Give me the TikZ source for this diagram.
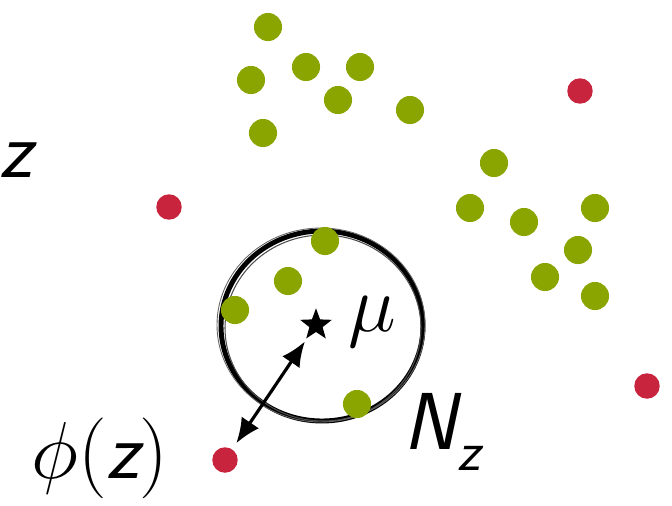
\documentclass[tikz,border=0pt]{standalone}
\usepackage{fix-cm}
\usepackage{amsmath,amssymb}
\usepackage{xcolor}
\usepackage{tikz}
\usetikzlibrary{arrows.meta,positioning,shapes.geometric}
\definecolor{dotgreen}{RGB}{138,164,0}
\definecolor{dotred}{RGB}{200,36,62}

\begin{document}
\begin{tikzpicture}[
  x=0.02cm, y=-0.02cm,
  gdot/.style={circle, fill=dotgreen, inner sep=0pt, minimum size=16pt},
  rdot/.style={circle, fill=dotred, inner sep=0pt, minimum size=14.5pt},
  lbl/.style={font=\fontsize{46}{54}\selectfont, inner sep=0pt},
  arrow/.style={{Latex[length=5mm,width=4.2mm]}-{Latex[length=5mm,width=4.2mm]}, line width=1.8pt}
]
\useasboundingbox (0,0) rectangle (672,505);

% neighbourhood N_z
\draw[line width=2.8pt] (322,326) ellipse [x radius=101, y radius=95];
\draw[line width=0.6pt, black!70] (323,328) ellipse [x radius=98, y radius=93];
\draw[line width=0.5pt, black!60] (321,325) ellipse [x radius=104, y radius=97];

% points of the data set
\foreach \x/\y [count=\i] in {268/27, 251/80, 306/67, 360/67, 338/100, 410/110, 263/133,
  494/163, 470/208, 524/222, 595/208, 578/250, 545/277, 595/296,
  325/241, 288/281, 235/310, 357/404} {
  \node[gdot] (g\i) at (\x,\y) {};
}
\foreach \x/\y [count=\i] in {580/91, 169/207, 647/386} {
  \node[rdot] (r\i) at (\x,\y) {};
}
\node[rdot] (phi) at (225,460) {};

% centre of the neighbourhood
\node[star, star points=5, star point ratio=2.4, fill=black, inner sep=0pt, minimum size=19pt] (mu) at (316,325) {};

\draw[arrow, shorten >=2pt, shorten <=4pt] (phi) -- (mu);

\node[lbl] (zlab) at (18,160) {\textsf{\itshape z}};
\node[lbl] (mulab) at (372,322) {$\mu$};
\node[lbl] (nlab) at (442,432) {\textsf{\itshape N\raisebox{-0.25em}{\fontsize{32}{36}\selectfont z}}};
\node[lbl] (philab) at (100,458) {$\phi(\textsf{\itshape z})$};
\end{tikzpicture}
\end{document}
